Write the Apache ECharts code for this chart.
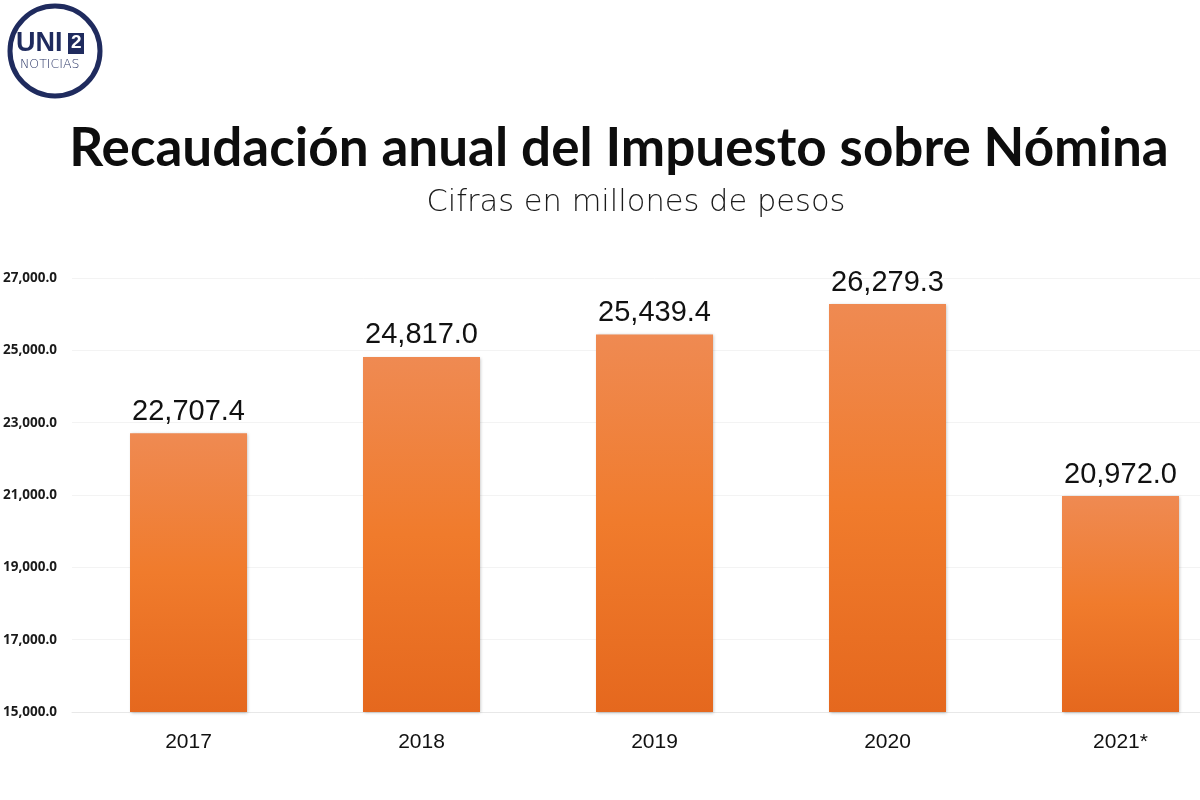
<!DOCTYPE html>
<html><head><meta charset="utf-8">
<script src="https://cdn.jsdelivr.net/npm/echarts@6/dist/echarts.min.js"></script>
<style>html,body{margin:0;padding:0;background:#fff;overflow:hidden;width:1200px;height:800px}#c{width:1237px;height:800px}</style>
</head><body><div id="c"></div>
<script>
const categories = ['2017','2018','2019','2020','2021*'];
const values = [22707.4, 24817.0, 25439.4, 26279.3, 20972.0];
const yTicks = [15000, 17000, 19000, 21000, 23000, 25000, 27000];

const chart = echarts.init(document.getElementById('c'), null, {renderer:'canvas'});
const fmt = v => v.toLocaleString('en-US',{minimumFractionDigits:1,maximumFractionDigits:1});
chart.setOption({
  backgroundColor:'#ffffff',
  animation:false,
  title:[
    {text:'Recaudación anual del Impuesto sobre Nómina', left:614, top:117, textAlign:'center',
     textStyle:{fontFamily:'Lato', fontWeight:'bold', fontSize:53, color:'#0d0d0d'}},
    {text:'Cifras en millones de pesos', left:631, top:183, textAlign:'center',
     textStyle:{fontFamily:'DejaVu Sans', fontWeight:300, fontSize:30.5, color:'#1a1a1a'}}
  ],
  grid:{left:72, top:278, right:0, height:434},
  xAxis:{type:'category', data:categories,
    axisLine:{show:true, lineStyle:{color:'#e8e8e8'}}, axisTick:{show:false},
    axisLabel:{margin:20, fontFamily:'Liberation Sans', fontSize:21, color:'#111'}},
  yAxis:{type:'value', min:yTicks[0], max:yTicks[yTicks.length-1], interval:2000,
    axisLine:{show:false}, axisTick:{show:false},
    splitLine:{lineStyle:{color:'#f3f3f3'}},
    axisLabel:{margin:15, fontFamily:'Open Sans', fontWeight:'bold', fontSize:13.5, color:'#1a1a1a', formatter:fmt}},
  series:[{type:'bar', data:values, barWidth:117,
    itemStyle:{color:new echarts.graphic.LinearGradient(0,0,0,1,[{offset:0,color:'#ef8a52'},{offset:0.5,color:'#f07b2c'},{offset:1,color:'#e5681e'}]),
      shadowColor:'rgba(0,0,0,0.25)', shadowBlur:3, shadowOffsetX:1, shadowOffsetY:1},
    label:{show:true, position:'top', distance:7, formatter:p=>fmt(p.value),
      fontFamily:'Liberation Sans', fontSize:29, color:'#111'}}],
  graphic:[
    {type:'circle', shape:{cx:55, cy:51, r:45}, style:{fill:'#fff', stroke:'#1f2b5e', lineWidth:5}},
    {type:'text', left:16, top:30, style:{text:'UNI', font:'bold 27px "Liberation Sans"', fill:'#1f2b5e'}},
    {type:'rect', shape:{x:68, y:33, width:16, height:21}, style:{fill:'#1f2b5e'}},
    {type:'text', left:71, top:33, style:{text:'2', font:'bold 19px "Liberation Sans"', fill:'#fff'}},
    {type:'text', left:20, top:58, style:{text:'NOTICIAS', font:'300 12.5px "DejaVu Sans"', fill:'#1f2b5e'}}
  ]
});
</script></body></html>
